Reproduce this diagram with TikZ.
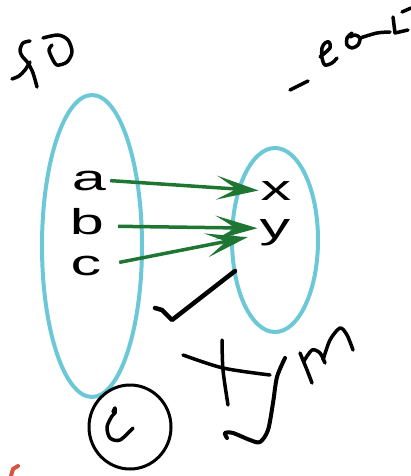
\documentclass[tikz,border=0pt]{standalone}
\usepackage{fontspec}
\newfontfamily\elemfont[FakeStretch=1.7]{Liberation Sans}
\usetikzlibrary{arrows.meta}

\definecolor{setcyan}{RGB}{108,200,214}
\definecolor{mapgreen}{RGB}{30,118,50}
\definecolor{inkred}{RGB}{214,84,64}

\begin{document}
\begin{tikzpicture}[
        x=1pt, y=-1pt,
        every node/.style={
          font=\elemfont\fontsize{36}{36}\selectfont,
          inner sep=2pt,
          anchor=base
        },
        setline/.style={draw=setcyan, line width=4pt},
        mapsto/.style={
          color=mapgreen,
          line width=3.5pt,
          -{Stealth[length=42pt,width=24pt,inset=20pt]}
        },
        ink/.style={draw=black, line width=3.5pt, line cap=round, line join=round}
      ]
      \useasboundingbox (0,0) rectangle (411,476);

      % the two sets
      \draw[setline] (92,246) ellipse [x radius=50, y radius=151];
      \draw[setline] (275,240) ellipse [x radius=43, y radius=92];

      % elements
      \node (a) at (89,190) {a};
      \node (b) at (87,234) {b};
      \node (c) at (86,275) {c};
      \node (x) at (276,200) {x};
      \node (y) at (275,238) {y};

      \path[mapsto]
      (a.east) edge[shorten <=2pt] (x.west)
      ([yshift=-5pt]b.east) edge[shorten <=12pt] ([yshift=4pt]y.west)
      (c.east) edge[shorten <=16pt, shorten >=10pt] ([yshift=-3pt]y.west);

      % handwritten marks
      \draw[ink] plot[smooth] coordinates {(30,41) (23,43) (20,50) (22,56) (28,63) (33,73) (37,87)};
      \draw[ink] plot[smooth] coordinates {(12,79) (19,76) (25,70) (30,62)};
      \draw[ink] plot[smooth] coordinates {(43,38) (58,35) (68,40) (72,52) (67,62) (57,65) (52,58) (49,50) (52,45)};
      \draw[ink] (290,90) -- (308,81);
      \draw[ink] plot[smooth] coordinates {(320,57) (330,48) (329,42) (325,43) (322,48) (322,58) (325,65) (332,63) (337,58)};
      \draw[ink] plot[smooth] coordinates {(352,33) (347,38) (347,45) (352,48) (358,45) (360,38) (355,35) (350,37)};
      \draw[ink] plot[smooth] coordinates {(360,38) (377,33) (390,32)};
      \draw[ink] (393,17) -- (395,33) -- (408,30);
      \draw[ink] (402,12) -- (411,8);

      \draw[ink, line width=4.5pt] (155,308) -- (162,310) -- (172,320) -- (235,271);

      \draw[ink] plot[smooth] coordinates {(183,355) (223,368) (270,375)};
      \draw[ink] plot[smooth] coordinates {(222,340) (223,370) (228,405)};
      \draw[ink, line width=4pt] plot[smooth] coordinates {(285,358) (277,377) (273,403) (268,430) (260,442) (250,440) (233,433) (225,433) (227,438)};
      \draw[ink] plot[smooth] coordinates {(300,353) (307,370) (312,383)};
      \draw[ink] plot[smooth] coordinates {(304,361) (312,350) (320,353) (325,363)};
      \draw[ink] plot[smooth] coordinates {(323,360) (330,340) (340,328) (347,335) (353,350)};

      \draw[ink, line width=3pt] (130,427) ellipse [x radius=41, y radius=42];
      \draw[ink] plot[smooth] coordinates {(113,412) (115,408) (115,413) (112,416) (107,427) (110,438) (120,440) (133,428)};

      \draw[draw=inkred, line width=4pt, line cap=round] (11,476) -- (13,469) -- (18,466);
    \end{tikzpicture}
\end{document}
